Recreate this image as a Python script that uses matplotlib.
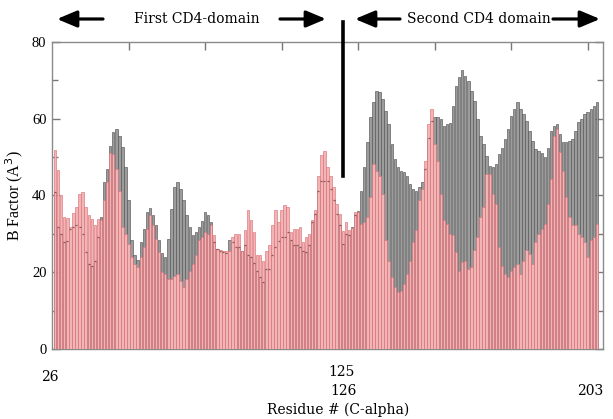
import matplotlib
matplotlib.use("Agg")
import matplotlib.pyplot as plt
import numpy as np

# Residues 26..203 (C-alpha), B factors for two structures
first_residue = 26
last_residue = 203

red_bfactor = [
    51.9, 46.7, 40.2, 34.3, 34.2, 31.9, 35.4, 37.1, 40.4, 40.8,
    37.1, 35.0, 33.9, 32.4, 33.9, 33.6, 38.7, 43.4, 51.0, 50.8,
    46.9, 41.3, 31.7, 30.0, 27.4, 23.9, 22.2, 21.3, 23.9, 26.5,
    31.3, 34.8, 32.4, 28.7, 25.2, 20.0, 19.6, 18.3, 18.3, 18.9,
    19.6, 17.8, 16.1, 18.3, 20.4, 22.2, 24.4, 28.3, 29.1, 30.4,
    30.0, 32.2, 29.6, 26.1, 25.8, 25.6, 25.5, 25.5, 29.1, 30.0,
    30.0, 25.6, 30.9, 36.1, 33.5, 30.4, 24.4, 24.4, 23.0, 25.6,
    27.0, 32.2, 36.1, 33.0, 36.1, 37.6, 37.0, 30.4, 31.3, 31.3,
    31.7, 27.8, 29.1, 30.0, 33.5, 36.1, 45.2, 50.6, 51.7, 47.3,
    45.2, 42.1, 37.8, 35.2, 30.8, 33.0, 30.9, 31.5, 35.6, 35.6,
    32.6, 33.0, 34.3, 39.5, 48.2, 46.5, 45.2, 40.4, 28.3, 23.0,
    18.7, 16.1, 14.8, 15.2, 17.0, 19.6, 23.0, 28.0, 31.0, 38.7,
    41.7, 49.1, 58.6, 62.5, 53.4, 49.1, 40.4, 33.5, 32.6, 30.0,
    29.6, 25.2, 20.4, 22.6, 23.0, 20.9, 21.3, 25.7, 29.1, 34.3,
    36.9, 45.6, 45.6, 40.4, 37.8, 26.5, 21.7, 19.5, 18.7, 20.4,
    21.3, 22.2, 19.6, 23.0, 25.7, 24.8, 22.2, 27.8, 30.0, 31.3,
    32.6, 37.8, 44.3, 55.6, 57.3, 51.3, 46.5, 39.5, 34.3, 32.2,
    32.2, 30.0, 29.1, 27.8, 23.9, 28.3, 29.1, 32.6,
]

gray_bfactor = [
    41.0, 31.7, 30.0, 27.8, 28.1, 31.3, 31.9, 32.2, 31.7, 30.0,
    25.2, 22.2, 21.7, 23.0, 29.1, 34.3, 43.5, 47.0, 53.0, 56.5,
    57.3, 55.6, 52.6, 47.4, 38.7, 28.3, 24.4, 23.2, 27.8, 31.3,
    35.6, 36.8, 34.8, 32.2, 28.4, 25.0, 23.9, 28.7, 36.5, 42.3,
    43.4, 41.7, 38.7, 34.8, 31.7, 29.6, 30.4, 31.7, 33.4, 35.6,
    34.8, 33.0, 27.8, 26.0, 25.5, 25.3, 25.0, 28.5, 28.0, 26.5,
    26.5, 25.6, 27.2, 24.4, 23.9, 22.4, 20.4, 18.7, 17.4, 20.9,
    20.9, 24.4, 26.5, 28.1, 29.1, 29.1, 30.4, 28.3, 27.2, 27.2,
    26.7, 25.6, 25.2, 27.0, 33.0, 35.2, 41.3, 43.9, 43.7, 43.9,
    41.7, 38.7, 35.2, 32.2, 27.4, 30.0, 29.6, 31.7, 35.0, 36.0,
    41.3, 47.4, 53.9, 60.4, 64.3, 67.3, 66.9, 65.1, 62.1, 58.6,
    53.5, 49.5, 47.4, 46.5, 46.0, 45.2, 43.0, 41.7, 41.3, 42.1,
    43.4, 47.0, 55.0, 59.5, 60.5, 60.4, 59.9, 58.2, 58.6, 59.0,
    63.4, 68.6, 70.8, 72.7, 71.2, 69.9, 67.3, 64.7, 59.9, 55.6,
    53.4, 50.4, 47.8, 47.4, 48.2, 50.8, 52.5, 54.7, 57.3, 60.8,
    62.5, 64.3, 62.5, 61.2, 59.5, 56.9, 54.3, 52.1, 51.7, 51.0,
    50.0, 52.5, 56.9, 58.2, 58.6, 56.0, 53.9, 53.9, 54.3, 54.7,
    56.9, 59.1, 59.9, 61.2, 61.7, 62.5, 63.4, 64.3,
]

W, H = 613, 419
fig = plt.figure(figsize=(W / 100, H / 100), dpi=100)
ax = fig.add_axes([52 / W, 1 - 349 / H, (603 - 52) / W, (349 - 42) / H])

red = np.array(red_bfactor)
gray = np.array(gray_bfactor)
x = np.arange(1, len(red) + 1)

ax.bar(x, gray, width=0.8, color="#9c9c9c", edgecolor="#555555", linewidth=0.45, zorder=2)
ax.bar(x, red, width=0.8, color="#f0b6b6", edgecolor="#e07078", linewidth=0.45, zorder=3)
hidden = gray < red
ax.plot(x[hidden], gray[hidden], linestyle="none", marker="_", markersize=1.6,
        color="#8a5a5a", markeredgewidth=0.9, zorder=4)

ax.set_xlim(0, 180)
ax.set_ylim(0, 80)
ax.set_xticks([25, 50, 75, 100, 125, 150, 175])
ax.set_xticklabels([])
ax.set_yticks([0, 20, 40, 60, 80])
ax.set_yticks([10, 30, 50, 70], minor=True)
ax.tick_params(axis="both", which="both", direction="in", top=True, right=True,
               color="#777777", width=1)
ax.tick_params(axis="both", which="major", length=6)
ax.tick_params(axis="both", which="minor", length=4)
ax.tick_params(axis="y", labelsize=10.5, pad=4)
for lab in ax.get_yticklabels():
    lab.set_family("Liberation Serif")
for s in ax.spines.values():
    s.set_color("#8a8a8a")
    s.set_linewidth(1.0)

ax.set_ylabel("B Factor (A$^3$)", family="Liberation Serif", fontsize=11.5, labelpad=5)

serif = "DejaVu Serif"

def fx(px):
    return px / W

def fy(py):
    return 1 - py / H

# Residue labels under the axis
fig.text(fx(50), fy(377), str(first_residue), family=serif, fontsize=10, ha="center", va="center")
fig.text(fx(341), fy(372), "125", family=serif, fontsize=10, ha="center", va="center")
fig.text(fx(343), fy(391), "126", family=serif, fontsize=10, ha="center", va="center")
fig.text(fx(590), fy(391), str(last_residue), family=serif, fontsize=10, ha="center", va="center")
fig.text(fx(338), fy(410), "Residue # (C-alpha)", family=serif, fontsize=10, ha="center", va="center")

# Domain annotations
fig.text(fx(197), fy(19), "First CD4-domain", family=serif, fontsize=10, ha="center", va="center")
fig.text(fx(479), fy(19), "Second CD4 domain", family=serif, fontsize=10, ha="center", va="center")

arrow_kw = dict(arrowstyle="-|>,head_length=1.0,head_width=0.42", mutation_scale=12,
                color="black", lw=2.3, shrinkA=0, shrinkB=0)
for x0, x1 in [(103, 57), (280, 326), (400, 355), (553, 600)]:
    fig.patches.append(matplotlib.patches.FancyArrowPatch(
        (fx(x0), fy(19)), (fx(x1), fy(19)), transform=fig.transFigure, **arrow_kw))

# Domain boundary line
fig.add_artist(matplotlib.lines.Line2D([fx(343), fx(343)], [fy(22), fy(176)],
                                       color="black", lw=2.6, transform=fig.transFigure))

fig.savefig("out.png", dpi=100)
